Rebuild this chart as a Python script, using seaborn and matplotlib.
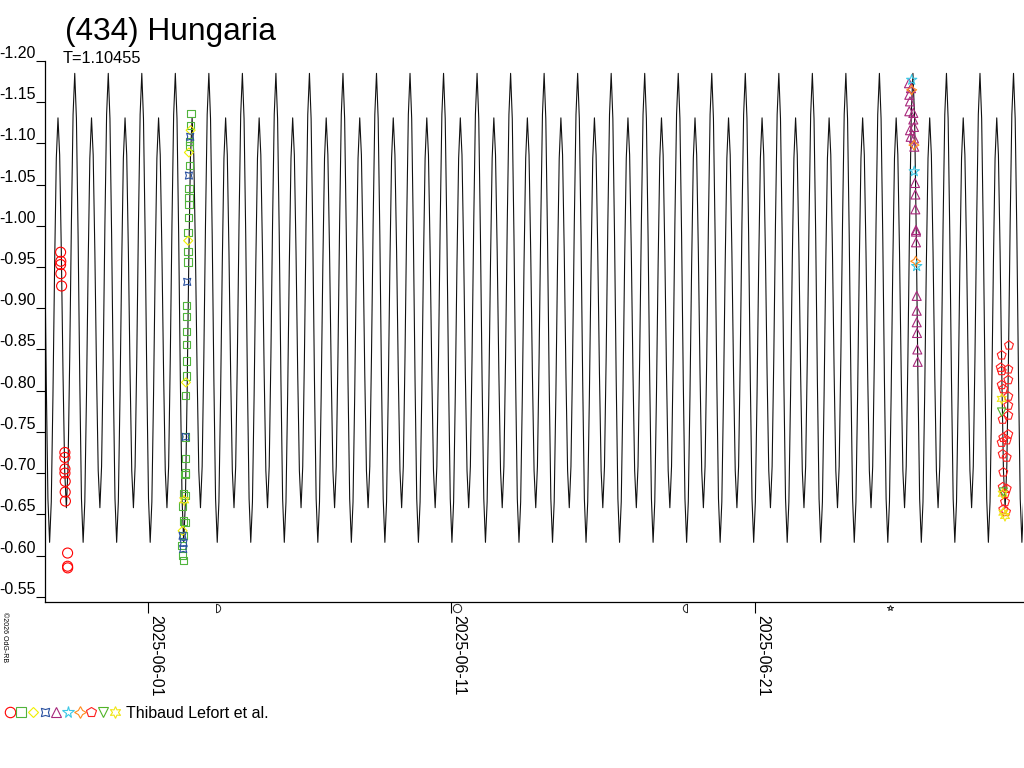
import numpy as np
import matplotlib
matplotlib.use('Agg')
import matplotlib.pyplot as plt
import matplotlib.dates as mdates
from matplotlib.path import Path
from matplotlib.markers import MarkerStyle
from matplotlib.lines import Line2D
from matplotlib.legend_handler import HandlerTuple
from matplotlib.transforms import Affine2D
import seaborn as sns

# rotation period (days) and one tall maximum, in days after 2025-06-01
period = 1.10455
peak_day = -2.41
# one cycle of the fitted lightcurve (phase, magnitude)
phase = [0.00, 0.05, 0.10, 0.15, 0.20, 0.25, 0.30, 0.35, 0.40, 0.45,
         0.50, 0.55, 0.60, 0.65, 0.70, 0.75, 0.80, 0.85, 0.90, 0.95]
profile = [-1.185, -1.130, -0.988, -0.812, -0.669, -0.616, -0.665, -0.794, -0.953, -1.082,
           -1.131, -1.086, -0.968, -0.821, -0.703, -0.658, -0.708, -0.840, -1.003, -1.135]

# observations, time in days after 2025-06-01
circ_t = [-2.876, -2.870, -2.876, -2.867, -2.843, -2.735, -2.735, -2.733, -2.733, -2.725,
          -2.725, -2.718, -2.646, -2.646, -2.643]
circ_m = [-0.968, -0.957, -0.953, -0.942, -0.927, -0.725, -0.719, -0.705, -0.700, -0.690,
          -0.677, -0.666, -0.603, -0.587, -0.585]

sq_t = [1.417, 1.407, 1.361, 1.361, 1.374, 1.351, 1.351, 1.351, 1.328, 1.318, 1.318, 1.318,
        1.275, 1.275, 1.275, 1.275, 1.275, 1.275, 1.242, 1.242, 1.242, 1.229, 1.219, 1.163,
        1.229, 1.130, 1.163, 1.219, 1.120, 1.143, 1.163, 1.163]
sq_m = [-1.136, -1.122, -1.102, -1.097, -1.073, -1.045, -1.034, -1.026, -1.010, -0.992, -0.969, -0.956,
        -0.903, -0.890, -0.872, -0.856, -0.836, -0.818, -0.794, -0.744, -0.718, -0.700, -0.698, -0.675,
        -0.673, -0.660, -0.642, -0.640, -0.612, -0.600, -0.594, -0.624]

dia_t = [1.407, 1.351, 1.328, 1.252, 1.143]
dia_m = [-1.116, -1.089, -0.982, -0.810, -0.630]

bow_t = [1.394, 1.351, 1.295, 1.242, 1.143, 1.163, 1.176]
bow_m = [-1.108, -1.061, -0.932, -0.744, -0.624, -0.608, -0.615]

tri_t = [25.074, 25.140, 25.084, 25.107, 25.084, 25.216, 25.216, 25.107, 25.239, 25.130, 25.239, 25.249,
         25.272, 25.282, 25.282, 25.305, 25.305, 25.305, 25.328, 25.328, 25.328, 25.338, 25.348, 25.361]
tri_m = [-1.173, -1.167, -1.159, -1.151, -1.139, -1.137, -1.129, -1.116, -1.120, -1.108, -1.106, -1.096,
         -1.052, -1.038, -1.020, -0.995, -0.993, -0.980, -0.915, -0.897, -0.883, -0.870, -0.850, -0.835]

star_t = [25.163, 25.249, 25.328]
star_m = [-1.177, -1.066, -0.951]

four_t = [25.163, 25.239, 25.295]
four_m = [-1.165, -1.098, -0.957]

pent_t = [28.369, 28.128, 28.095, 28.346, 28.128, 28.346, 28.128, 28.181, 28.346, 28.346, 28.346, 28.161,
          28.346, 28.181, 28.128, 28.293, 28.161, 28.293, 28.181, 28.161, 28.293, 28.237, 28.237, 28.181,
          28.270]
pent_m = [-0.855, -0.843, -0.828, -0.826, -0.824, -0.813, -0.807, -0.802, -0.793, -0.782, -0.770, -0.765,
          -0.747, -0.743, -0.737, -0.740, -0.723, -0.719, -0.701, -0.683, -0.681, -0.675, -0.665, -0.656,
          -0.653]

vtri_t = [28.128, 28.181]
vtri_m = [-0.774, -0.677]

hex_t = [1.196, 28.128, 28.161, 28.237, 28.181]
hex_m = [-0.667, -0.790, -0.675, -0.648, -0.652]

# moon phases (days after 2025-06-01)
moon_days = [2.25, 10.17, 17.75, 24.45]

tick_dates = ['2025-06-01', '2025-06-11', '2025-06-21']
y_ticks = [-1.20, -1.15, -1.10, -1.05, -1.00, -0.95, -0.90, -0.85, -0.80, -0.75, -0.70, -0.65, -0.60, -0.55]

sns.set_style('white')
plt.rcParams['font.family'] = ['Liberation Sans', 'DejaVu Sans']
plt.rcParams['axes.unicode_minus'] = False
plt.rcParams['text.color'] = 'black'
plt.rcParams['xtick.color'] = 'black'
plt.rcParams['ytick.color'] = 'black'

base = mdates.date2num(np.datetime64('2025-06-01T00:00'))

fig = plt.figure(figsize=(10.24, 7.68), dpi=100)
ax = fig.add_axes([45 / 1024, 1 - 602 / 768, 978 / 1024, 541 / 768])

# lightcurve: the read cycle repeated every period
cycles = np.arange(-2, 31)
curve_t = (peak_day + (cycles[:, None] + np.array(phase)[None, :]) * period).ravel()
curve_m = np.tile(profile, len(cycles))
sns.lineplot(x=base + curve_t, y=curve_m, sort=False, estimator=None,
             color='#111111', lw=0.8, ax=ax, zorder=2)

star4 = (4, 1, 0)
bowtie = (4, 1, 45)
series = [
    (circ_t, circ_m, 'o', '#ff0000', 52, 7.5),
    (sq_t, sq_m, 's', '#50b43c', 28, 6.5),
    (dia_t, dia_m, 'D', '#f0f000', 21, 5.5),
    (bow_t, bow_m, bowtie, '#2850a0', 52, 8.5),
    (tri_t, tri_m, '^', '#a8287c', 42, 7.5),
    (star_t, star_m, '*', '#3cc8e6', 60, 8.5),
    (four_t, four_m, star4, '#ff8c1e', 52, 8.5),
    (pent_t, pent_m, 'p', '#ff1e1e', 45, 7.5),
    (vtri_t, vtri_m, 'v', '#50b428', 36, 7.5),
    (hex_t, hex_m, (6, 1, 0), '#f0e614', 55, 8.5),
]
for t, m, mk, col, s, _ in series:
    sns.scatterplot(x=base + np.array(t), y=m, marker=mk, s=s, color=col,
                    facecolors='none', edgecolor=col, linewidth=0.8, ax=ax, zorder=3)

ax.set_xlim(base - 3.39, base + 28.83)
ax.set_ylim(-0.5436, -1.20)
ax.set_yticks(y_ticks)
ax.set_yticklabels(['%.2f' % v for v in y_ticks], va='bottom')
ax.set_xticks([mdates.date2num(np.datetime64(d)) for d in tick_dates])
ax.set_xticklabels(tick_dates, rotation=270, ha='left', va='top')
ax.tick_params(axis='y', left=True, direction='out', length=6.5, width=0.8, pad=0,
               labelsize=11.5, colors='black')
ax.tick_params(axis='x', bottom=True, direction='out', length=8, width=0.8, pad=1.5,
               labelsize=11.5, colors='black')
for side in ['top', 'right']:
    ax.spines[side].set_visible(False)
for side in ['left', 'bottom']:
    ax.spines[side].set_color('black')
    ax.spines[side].set_linewidth(0.9)

# moon phase symbols under the time axis
right_half = MarkerStyle(Path.unit_circle_righthalf())
left_half = MarkerStyle(Path.unit_circle_righthalf().transformed(Affine2D().scale(-1, 1)))
moon_marks = [right_half, 'o', left_half, '*']
for d, mk in zip(moon_days, moon_marks):
    ax.plot([base + d], [-0.011], marker=mk, ms=6 if mk != '*' else 4, mfc='none', mec='#222222',
            mew=0.7, ls='none', transform=ax.get_xaxis_transform(), clip_on=False)

fig.text(65 / 1024, 1 - 40 / 768, '(434) Hungaria', fontsize=22.8, va='baseline', ha='left')
fig.text(63 / 1024, 1 - 63 / 768, 'T=1.10455', fontsize=11.8, va='baseline', ha='left')
fig.text(1 / 1024, 1 - 612 / 768, '©2026 OdG-RB', fontsize=5, rotation=270, va='top', ha='left')

handles = tuple(Line2D([], [], marker=mk, ls='none', ms=lms, mfc='none', mec=col, mew=0.8)
                for _, _, mk, col, _, lms in series)
fig.legend([handles], ['Thibaud Lefort et al.'], handler_map={tuple: HandlerTuple(ndivide=None, pad=0)},
           loc='center left', bbox_to_anchor=(4 / 1024, 1 - 713 / 768), frameon=False,
           borderpad=0, borderaxespad=0, handlelength=7.3, handletextpad=0.35, fontsize=11.5)

fig.savefig('out.png', dpi=100)
